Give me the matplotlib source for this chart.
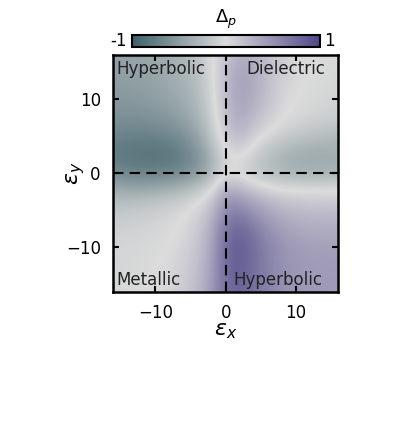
import numpy as np
import matplotlib
matplotlib.use('Agg')
import matplotlib.pyplot as plt
from matplotlib.colors import LinearSegmentedColormap

# grid of eps_x / eps_y values (step 2)
eps_x = np.arange(-16, 17, 2)
eps_y = np.arange(16, -17, -2)

# Delta_p, one row per eps_y (top row = +16), columns = eps_x from -16 to 16
delta_p = np.array([
    [-0.45, -0.45, -0.43, -0.40, -0.36, -0.30, -0.20, -0.02, 0.15, 0.30, 0.28, 0.18, 0.10, 0.03, 0.00, -0.02, -0.03],
    [-0.47, -0.47, -0.45, -0.42, -0.38, -0.32, -0.22, -0.03, 0.20, 0.38, 0.32, 0.20, 0.10, 0.03, 0.00, -0.02, -0.03],
    [-0.50, -0.50, -0.48, -0.45, -0.40, -0.35, -0.25, -0.05, 0.22, 0.40, 0.33, 0.20, 0.08, 0.02, -0.02, -0.03, -0.05],
    [-0.53, -0.54, -0.52, -0.49, -0.44, -0.38, -0.28, -0.07, 0.22, 0.38, 0.30, 0.17, 0.05, 0.00, -0.03, -0.05, -0.07],
    [-0.58, -0.59, -0.58, -0.56, -0.51, -0.44, -0.32, -0.10, 0.20, 0.35, 0.25, 0.12, 0.02, -0.03, -0.06, -0.08, -0.10],
    [-0.66, -0.68, -0.68, -0.66, -0.62, -0.54, -0.41, -0.15, 0.15, 0.28, 0.15, 0.03, -0.05, -0.10, -0.15, -0.18, -0.20],
    [-0.74, -0.77, -0.78, -0.78, -0.75, -0.66, -0.52, -0.25, 0.08, 0.15, 0.00, -0.12, -0.20, -0.27, -0.30, -0.32, -0.33],
    [-0.76, -0.80, -0.82, -0.83, -0.81, -0.74, -0.60, -0.35, -0.05, 0.00, -0.12, -0.25, -0.32, -0.38, -0.40, -0.40, -0.38],
    [-0.64, -0.68, -0.70, -0.70, -0.68, -0.62, -0.51, -0.30, 0.00, -0.05, -0.15, -0.22, -0.28, -0.32, -0.33, -0.33, -0.32],
    [-0.40, -0.43, -0.43, -0.41, -0.37, -0.31, -0.20, -0.05, 0.30, 0.25, 0.12, 0.03, -0.02, -0.03, -0.03, -0.03, -0.02],
    [-0.22, -0.22, -0.20, -0.17, -0.13, -0.07, 0.00, 0.15, 0.50, 0.50, 0.38, 0.28, 0.20, 0.17, 0.15, 0.14, 0.13],
    [-0.13, -0.12, -0.10, -0.08, -0.05, 0.00, 0.08, 0.25, 0.62, 0.68, 0.55, 0.42, 0.33, 0.28, 0.26, 0.26, 0.26],
    [-0.08, -0.07, -0.06, -0.04, -0.01, 0.03, 0.12, 0.32, 0.70, 0.80, 0.68, 0.53, 0.43, 0.37, 0.34, 0.33, 0.33],
    [-0.06, -0.05, -0.04, -0.02, 0.00, 0.06, 0.15, 0.36, 0.75, 0.85, 0.73, 0.58, 0.48, 0.42, 0.40, 0.40, 0.40],
    [-0.05, -0.04, -0.03, -0.01, 0.02, 0.08, 0.18, 0.38, 0.75, 0.85, 0.73, 0.60, 0.50, 0.45, 0.43, 0.42, 0.42],
    [-0.05, -0.03, -0.02, 0.00, 0.03, 0.10, 0.20, 0.40, 0.75, 0.83, 0.72, 0.60, 0.50, 0.46, 0.44, 0.43, 0.43],
    [-0.04, -0.03, -0.01, 0.00, 0.04, 0.11, 0.22, 0.42, 0.74, 0.80, 0.70, 0.60, 0.50, 0.46, 0.45, 0.44, 0.44],
])

regions = ['Hyperbolic', 'Dielectric', 'Metallic', 'Hyperbolic']
region_pos = [(-15.5, 13.4), (2.9, 13.4), (-15.5, -15.1), (1.1, -15.1)]
ticks = [-10, 0, 10]

cmap = LinearSegmentedColormap.from_list('sp', ['#3e5f69', '#dcdcdc', '#4f4688'])

fig = plt.figure(figsize=(4.12, 4.32), dpi=100)
ax = fig.add_axes([0.275, 0.3248, 0.546, 0.548])

step = eps_x[1] - eps_x[0]
im = ax.imshow(delta_p, cmap=cmap, vmin=-1, vmax=1, interpolation='bicubic', aspect='auto',
               extent=(eps_x[0] - step / 2, eps_x[-1] + step / 2,
                       eps_y[-1] - step / 2, eps_y[0] + step / 2))
ax.set_xlim(-16, 16)
ax.set_ylim(-16, 16)

ax.axvline(0, color='k', ls='--', lw=1.5, dashes=(5, 3))
ax.axhline(0, color='k', ls='--', lw=1.5, dashes=(5, 3))

for name, (x, y) in zip(regions, region_pos):
    ax.text(x, y, name, fontsize=12, color='#222222', ha='left', va='baseline')

ax.set_xticks(ticks)
ax.set_yticks(ticks)
ax.tick_params(direction='in', top=True, right=True, length=4, width=1.5,
               labelsize=12, pad=9)
for s in ax.spines.values():
    s.set_linewidth(1.8)
ax.set_xlabel(r'$\varepsilon_x$', fontsize=16, labelpad=-1)
ax.set_ylabel(r'$\varepsilon_y$', fontsize=16, labelpad=-15)

cax = fig.add_axes([0.3204, 0.8919, 0.4563, 0.027])
cb = fig.colorbar(im, cax=cax, orientation='horizontal')
cb.set_ticks([])
cb.outline.set_linewidth(1.5)
fig.text(0.3204 - 0.012, 0.9054, '-1', fontsize=12, ha='right', va='center')
fig.text(0.3204 + 0.4563 + 0.01, 0.9054, '1', fontsize=12, ha='left', va='center')
fig.text(0.3204 + 0.4563 / 2, 0.928, r'$\Delta_p$', fontsize=13, ha='center', va='bottom')

fig.savefig('out.png', dpi=100)
